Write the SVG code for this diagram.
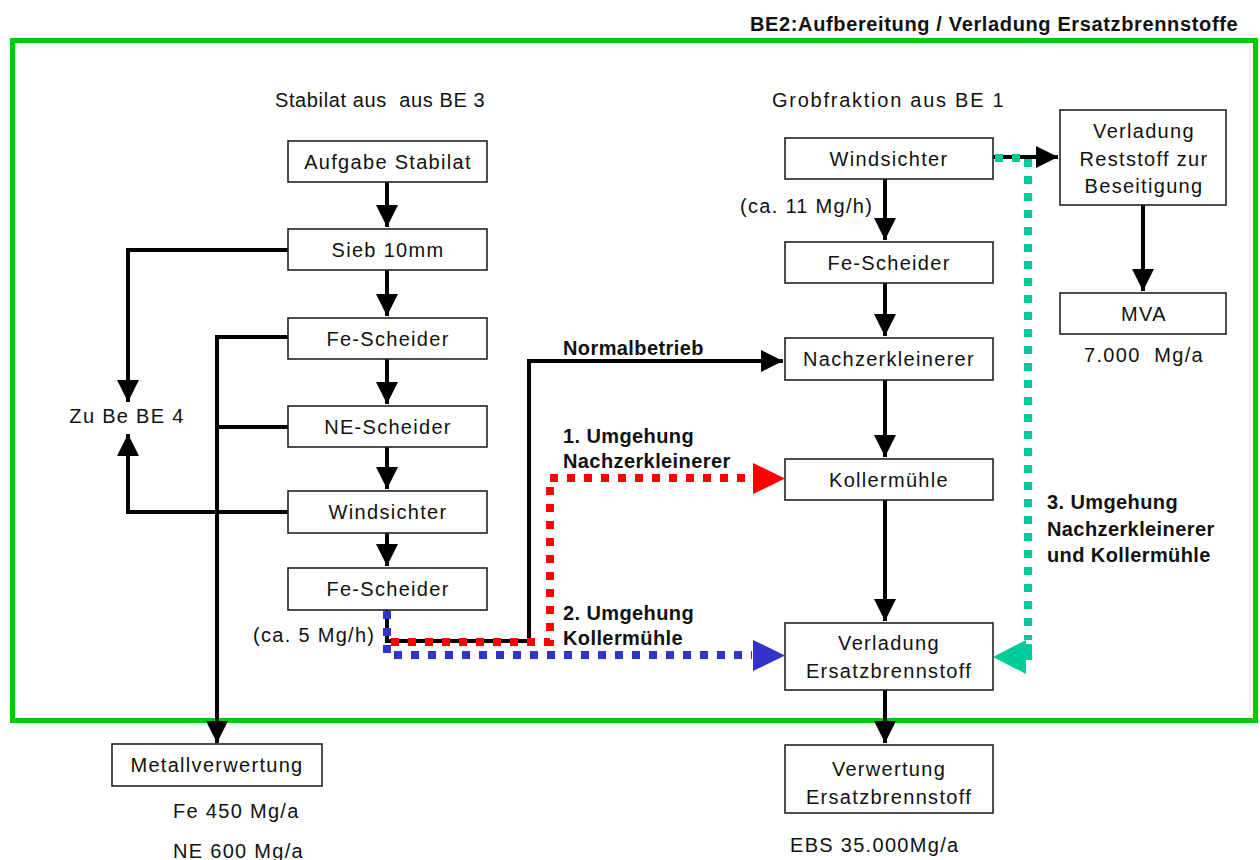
<svg xmlns="http://www.w3.org/2000/svg" width="1260" height="860" viewBox="0 0 1260 860">
<style>
.box{fill:#fff;stroke:#222;stroke-width:1.6}
.t{font-family:"Liberation Sans",Arial,sans-serif;font-size:20px;letter-spacing:1.3px;fill:#111}
.c{text-anchor:middle}
.b{font-family:"Liberation Sans",Arial,sans-serif;font-size:20px;font-weight:bold;letter-spacing:0.4px;fill:#111}
.ln{fill:none;stroke:#000;stroke-width:4}
.dot{fill:none;stroke-width:8;stroke-dasharray:8 9}
</style>
<defs>
<marker id="ah" markerUnits="userSpaceOnUse" markerWidth="22" markerHeight="22" refX="20" refY="10" orient="auto" viewBox="0 0 20 20">
<path d="M0,0 L20,10 L0,20 Z" fill="#000"/>
</marker>
</defs>
<rect x="12.5" y="40.5" width="1243" height="680" fill="none" stroke="#00CC00" stroke-width="5"/>
<text class="b" x="1238" y="31" text-anchor="end" textLength="488" lengthAdjust="spacing">BE2:Aufbereitung / Verladung Ersatzbrennstoffe</text>
<text class="t" x="275" y="107" xml:space="preserve" textLength="211" lengthAdjust="spacing">Stabilat aus  aus BE 3</text>
<text class="t" x="772" y="107" textLength="233" lengthAdjust="spacing">Grobfraktion aus BE 1</text>

<g id="connectors">
<path class="ln" d="M387,182 V227" marker-end="url(#ah)"/>
<path class="ln" d="M387,270 V316" marker-end="url(#ah)"/>
<path class="ln" d="M387,359 V404" marker-end="url(#ah)"/>
<path class="ln" d="M387,447 V489" marker-end="url(#ah)"/>
<path class="ln" d="M387,533 V566" marker-end="url(#ah)"/>
<path class="ln" d="M288,250 H128 V402" marker-end="url(#ah)"/>
<path class="ln" d="M288,512 H128 V434" marker-end="url(#ah)"/>
<path class="ln" d="M288,337 H217 V743" marker-end="url(#ah)"/>
<path class="ln" d="M288,427 H217"/>
<path class="ln" d="M387,610 V641 H529 V361 H783" marker-end="url(#ah)"/>
<path class="ln" d="M885,179 V240" marker-end="url(#ah)"/>
<path class="ln" d="M885,283 V336" marker-end="url(#ah)"/>
<path class="ln" d="M885,380 V457" marker-end="url(#ah)"/>
<path class="ln" d="M885,500 V621" marker-end="url(#ah)"/>
<path class="ln" d="M885,690 V743" marker-end="url(#ah)"/>
<path class="ln" d="M993,157 H1058" marker-end="url(#ah)"/>
<path class="ln" d="M1143,205 V291" marker-end="url(#ah)"/>
<path class="dot" stroke="#FF0000" d="M391,642 H550 V478 H752"/>
<polygon points="753,463 785,478.5 753,494" fill="#FF0000"/>
<path class="dot" stroke="#3333CC" d="M387,611 V655 H752"/>
<polygon points="753,640 785,655.5 753,671" fill="#3333CC"/>
<path class="dot" stroke="#00CC99" d="M995,158 H1028 V640"/>
<path fill="none" stroke="#00CC99" stroke-width="8" d="M1028,644 V660"/>
<polygon points="1026,640 993,657 1026,674" fill="#00CC99"/>
</g>

<g id="n-aufgabe"><rect class="box" x="288" y="141" width="199" height="41"/><text class="t c" x="388" y="169">Aufgabe Stabilat</text></g>
<g id="n-sieb"><rect class="box" x="288" y="229" width="199" height="41"/><text class="t c" x="388" y="257">Sieb 10mm</text></g>
<g id="n-fe1"><rect class="box" x="288" y="318" width="199" height="41"/><text class="t c" x="388" y="346">Fe-Scheider</text></g>
<g id="n-ne"><rect class="box" x="288" y="406" width="199" height="41"/><text class="t c" x="388" y="434">NE-Scheider</text></g>
<g id="n-wind1"><rect class="box" x="288" y="491" width="199" height="42"/><text class="t c" x="388" y="519">Windsichter</text></g>
<g id="n-fe2"><rect class="box" x="288" y="568" width="199" height="42"/><text class="t c" x="388" y="596">Fe-Scheider</text></g>
<g id="n-be4"><text class="t c" x="127" y="423">Zu Be BE 4</text></g>
<g id="n-metall"><rect class="box" x="112" y="744" width="210" height="42"/><text class="t c" x="217" y="772">Metallverwertung</text></g>
<text class="t" x="173" y="818">Fe 450 Mg/a</text>
<text class="t" x="173" y="858">NE 600 Mg/a</text>
<text class="t" x="253" y="642">(ca. 5 Mg/h)</text>

<g id="n-wind2"><rect class="box" x="785" y="138" width="208" height="41"/><text class="t c" x="889" y="166">Windsichter</text></g>
<text class="t" x="740" y="213">(ca. 11 Mg/h)</text>
<g id="n-fe3"><rect class="box" x="785" y="242" width="208" height="41"/><text class="t c" x="889" y="270">Fe-Scheider</text></g>
<g id="n-nachz"><rect class="box" x="785" y="338" width="208" height="42"/><text class="t c" x="889" y="366">Nachzerkleinerer</text></g>
<g id="n-koller"><rect class="box" x="785" y="459" width="208" height="41"/><text class="t c" x="889" y="487">Kollermühle</text></g>
<g id="n-verladung"><rect class="box" x="785" y="623" width="208" height="67"/><text class="t c" x="889" y="650">Verladung</text><text class="t c" x="889" y="678">Ersatzbrennstoff</text></g>
<g id="n-verwertung"><rect class="box" x="785" y="745" width="208" height="68"/><text class="t c" x="889" y="776">Verwertung</text><text class="t c" x="889" y="804">Ersatzbrennstoff</text></g>
<text class="t" x="790" y="852">EBS 35.000Mg/a</text>

<g id="n-reststoff"><rect class="box" x="1060" y="110" width="166" height="95"/><text class="t c" x="1144" y="138">Verladung</text><text class="t c" x="1144" y="166">Reststoff zur</text><text class="t c" x="1144" y="193">Beseitigung</text></g>
<g id="n-mva"><rect class="box" x="1060" y="293" width="166" height="41"/><text class="t c" x="1144" y="321">MVA</text></g>
<text class="t c" x="1144" y="362" xml:space="preserve">7.000  Mg/a</text>

<text class="b" x="563" y="355">Normalbetrieb</text>
<text class="b" x="563" y="443">1. Umgehung</text>
<text class="b" x="563" y="468">Nachzerkleinerer</text>
<text class="b" x="563" y="620">2. Umgehung</text>
<text class="b" x="563" y="645">Kollermühle</text>
<text class="b" x="1047" y="509">3. Umgehung</text>
<text class="b" x="1047" y="536">Nachzerkleinerer</text>
<text class="b" x="1047" y="562">und Kollermühle</text>
</svg>
